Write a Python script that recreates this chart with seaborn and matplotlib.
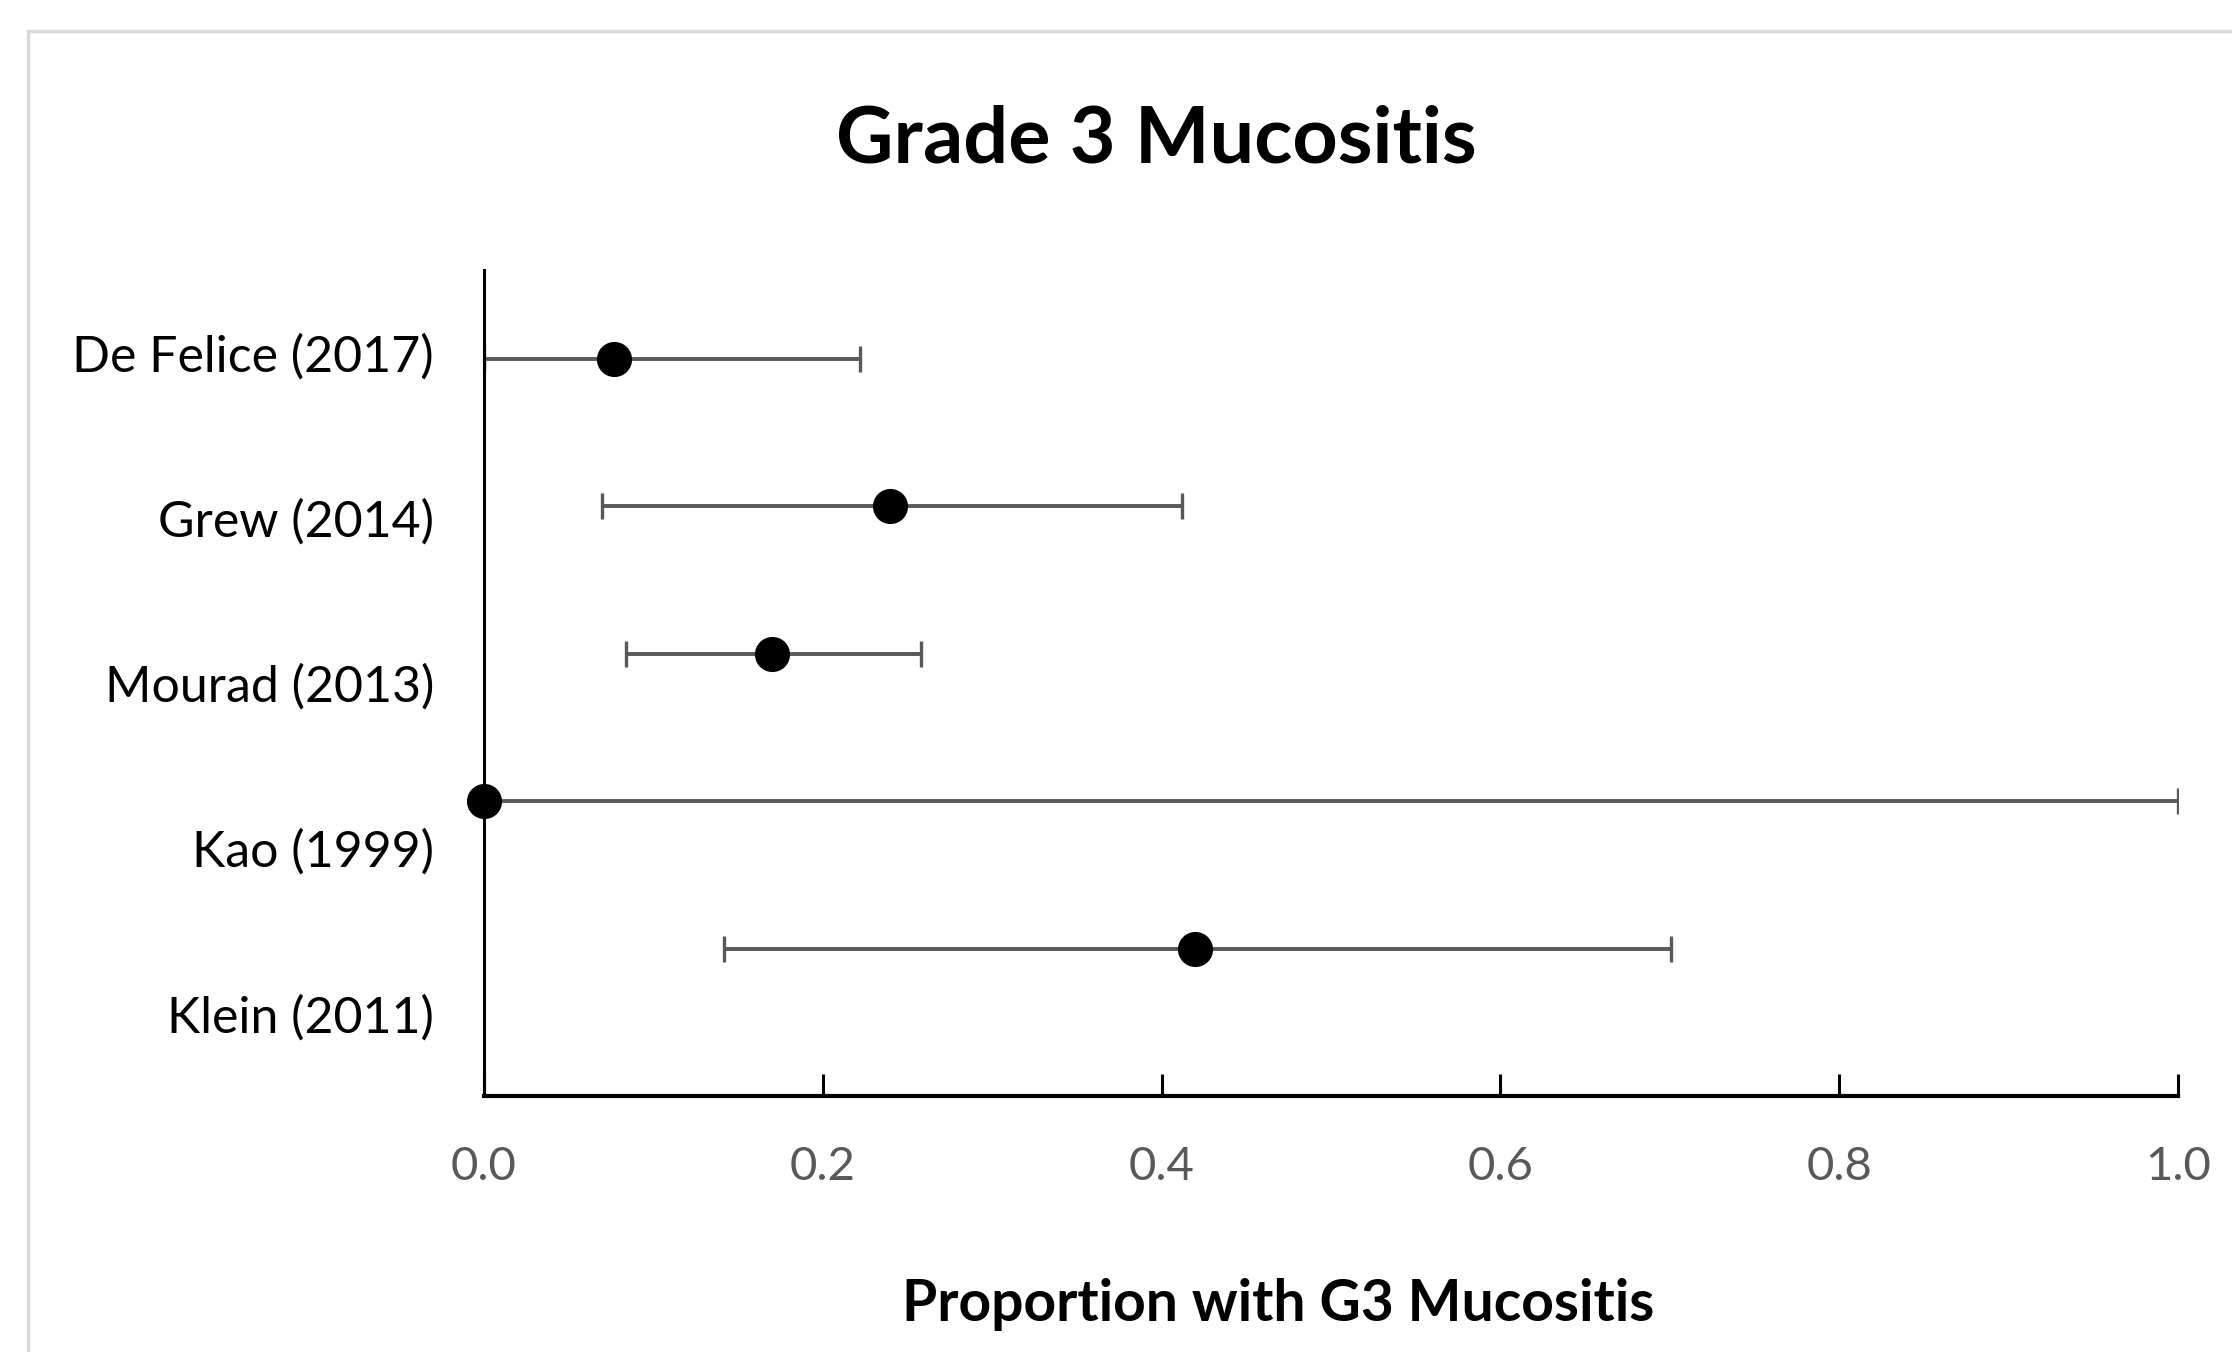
import numpy as np
import pandas as pd
import seaborn as sns
import matplotlib.pyplot as plt
from matplotlib.patches import Rectangle

# data (top to bottom)
studies = ["De Felice (2017)", "Grew (2014)", "Mourad (2013)", "Kao (1999)", "Klein (2011)"]
proportion = [0.077, 0.240, 0.170, 0.0, 0.420]
ci_low = [0.0, 0.070, 0.084, 0.0, 0.142]
ci_high = [0.222, 0.412, 0.258, 1.0, 0.701]

# the points sit on a secondary scale (1..5 on 0..5.6), labels on category bands
point_y = [5, 4, 3, 2, 1]
y_max = 5.6

df = pd.DataFrame({"study": studies, "p": proportion, "lo": ci_low,
                   "hi": ci_high, "y": point_y})

sns.set_style("white")
plt.rcParams["font.family"] = ["Lato", "DejaVu Sans"]

fig = plt.figure(figsize=(22.32, 13.52), dpi=100)
ax = fig.add_axes([0.2168, 0.1893, 0.9758 - 0.2168, 0.8003 - 0.1893])

ax.errorbar(x=df.p, y=df.y, xerr=[df.p - df.lo, df.hi - df.p], fmt="none",
            ecolor="#595959", elinewidth=2.8, capsize=9.5, capthick=2.4, zorder=2)
sns.scatterplot(x="p", y="y", data=df, ax=ax, color="black", s=640,
                edgecolor="black", linewidth=0, zorder=3, clip_on=False)

ax.set_xlim(0, 1.0)
ax.set_ylim(0, y_max)

ax.set_xticks(np.arange(0, 1.01, 0.2))
ax.set_xticklabels([f"{v:.1f}" for v in np.arange(0, 1.01, 0.2)])
band = y_max / len(studies)
ax.set_yticks([(len(studies) - 1 - i + 0.5) * band for i in range(len(studies))])
ax.set_yticklabels(studies)

ax.tick_params(axis="x", bottom=True, direction="in", length=16, width=2.2,
               color="black", labelsize=34, labelcolor="#595959", pad=36)
ax.tick_params(axis="y", left=False, length=0, labelsize=36, labelcolor="black", pad=36)

for s in ["top", "right"]:
    ax.spines[s].set_visible(False)
ax.spines["left"].set_linewidth(2.2)
ax.spines["left"].set_color("black")
ax.spines["bottom"].set_linewidth(3.0)
ax.spines["bottom"].set_color("black")
ax.set_xlabel("")
ax.set_ylabel("")

fig.text(0.518, 0.896, "Grade 3 Mucositis", ha="center", va="center",
         fontsize=57, fontweight="bold", color="black")
fig.text(0.5727, 0.0355, "Proportion with G3 Mucositis", ha="center", va="center",
         fontsize=41, fontweight="bold", color="black")

fig.patches.append(Rectangle((28 / 2232, -0.1), 1.2, 1 - 31 / 1352 + 0.1,
                             transform=fig.transFigure, fill=False,
                             edgecolor="#d9d9d9", linewidth=2.5))

fig.savefig("out.png", dpi=100)
